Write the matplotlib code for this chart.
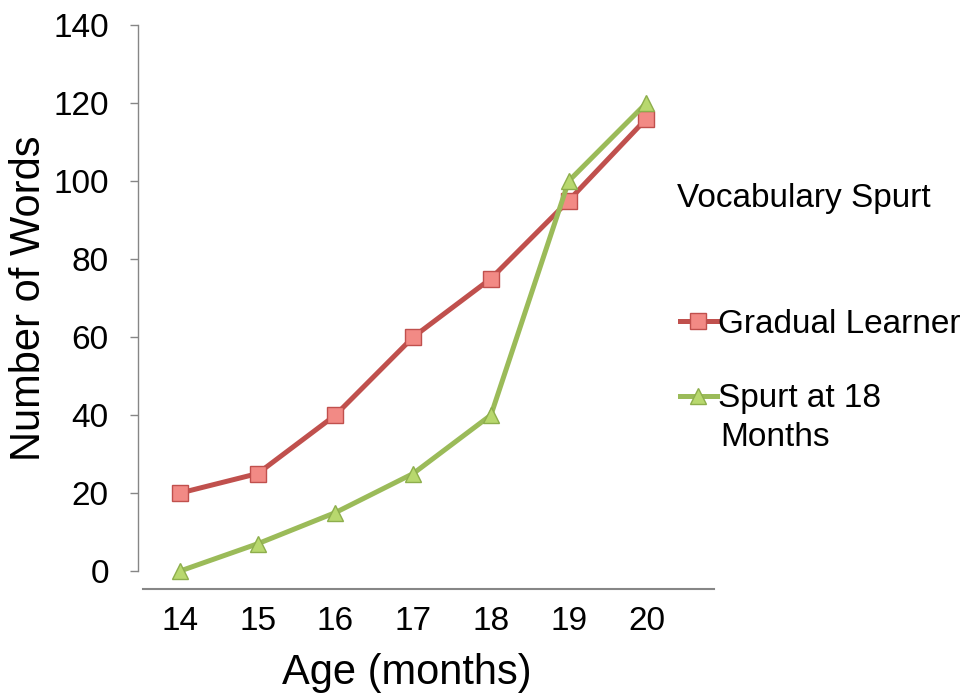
import matplotlib
matplotlib.use("Agg")
from matplotlib import pyplot as plt

plt.rcParams['font.family'] = ['Liberation Sans', 'DejaVu Sans']

ages = [14, 15, 16, 17, 18, 19, 20]
gradual_learner = [20, 25, 40, 60, 75, 95, 116]
spurt_at_18 = [0, 7, 15, 25, 40, 100, 120]
y_ticks = [0, 20, 40, 60, 80, 100, 120, 140]

red_line, red_fill = '#C0504D', '#F28A85'
green_line, green_fill = '#9BBB59', '#B8D86E'
grey = '#868686'

fig = plt.figure(figsize=(9.66, 6.98), dpi=100)
ax = fig.add_axes([0.1429, 0.1819, 0.5963, 0.7822])

ax.plot(ages, gradual_learner, color=red_line, lw=3.6, marker='s', ms=12,
        mfc=red_fill, mec=red_line, mew=1.0, label='Gradual Learner', clip_on=False)
ax.plot(ages, spurt_at_18, color=green_line, lw=3.6, marker='^', ms=12,
        mfc=green_fill, mec='#8DAE4C', mew=1.0, label='Spurt at 18', clip_on=False)

ax.set_ylim(0, 140)
ax.set_xlim(13.46, 20.87)
ax.set_yticks(y_ticks)
ax.set_xticks(ages)

for side in ['top', 'right']:
    ax.spines[side].set_visible(False)
ax.spines['left'].set_color(grey)
ax.spines['left'].set_linewidth(1.0)
ax.spines['bottom'].set_color(grey)
ax.spines['bottom'].set_linewidth(1.5)
ax.spines['bottom'].set_position(('outward', 13))
ax.spines['bottom'].set_bounds(13.52, 20.87)

ax.tick_params(axis='y', direction='out', length=6, width=1.0, color=grey,
               labelsize=24, pad=15)
ax.tick_params(axis='x', length=0, labelsize=24, pad=12)

ax.set_xlabel('Age (months)', fontsize=30)
ax.set_ylabel('Number of Words', fontsize=30)
ax.xaxis.set_label_coords(0.467, -0.15)
ax.yaxis.set_label_coords(-0.155, 0.5)

fig.text(677 / 966, 1 - 199 / 698, 'Vocabulary Spurt', fontsize=24,
         ha='left', va='center')
fig.legend(loc='upper left', bbox_to_anchor=(680 / 966, 1 - 309 / 698),
           frameon=False, fontsize=24, handlelength=1.1, handletextpad=0.05,
           labelspacing=1.3, borderaxespad=0, borderpad=0)
fig.text(720 / 966, 1 - 437 / 698, 'Months', fontsize=24,
         ha='left', va='center')

fig.savefig('out.png', dpi=100)
